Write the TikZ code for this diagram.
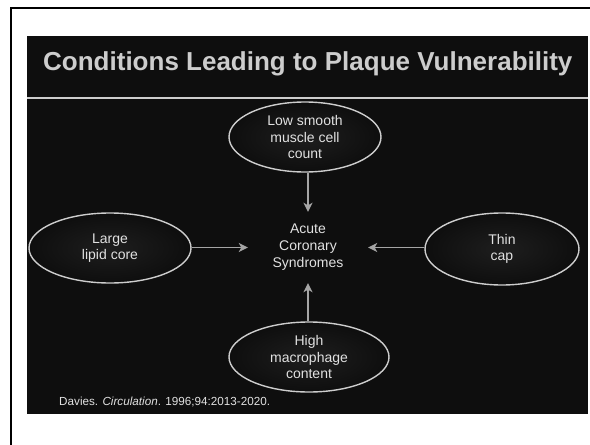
\documentclass[tikz,border=0pt]{standalone}
\usepackage{fontspec}
\setmainfont{Liberation Sans}
\usetikzlibrary{shapes.geometric,arrows.meta}
\definecolor{slide}{RGB}{14,14,14}
\definecolor{ink}{RGB}{225,225,225}
\definecolor{rim}{RGB}{205,205,205}
\definecolor{wire}{RGB}{165,165,165}
\definecolor{heading}{RGB}{205,205,205}
\definecolor{ovalcore}{RGB}{30,30,30}

\begin{document}
\begin{tikzpicture}[x=1pt,y=-1pt,
  oval/.style={ellipse, draw=rim, line width=1.4pt, inner sep=0pt,
    inner color=ovalcore, outer color=slide, text=ink, align=center,
    font=\fontsize{14}{16.5}\selectfont},
  feed/.style={draw=wire, line width=1.8pt,
    -{Stealth[length=9pt,width=9pt,inset=2.5pt]}},
  plain/.style={text=ink, align=center, inner sep=0pt},
]
\useasboundingbox (0,0) rectangle (590,445);
\fill[white] (0,0) rectangle (590,445);
% page frame (left and top edges)
\draw[black, line width=2pt] (11,445) |- (590,8);
% slide area
\fill[slide] (27,36) rectangle (588,414);

% heading and rule
\node (title) [anchor=base west, text=heading, inner sep=0pt,
  font=\bfseries\fontsize{26}{30}\selectfont] at (43,70)
  {Conditions Leading to Plaque Vulnerability};
\coordinate (ruleL) at (27,98);
\coordinate (ruleR) at (588,98);
\draw[rim, line width=2pt] (ruleL) -- (ruleR);

% causes
\node[oval, minimum width=152pt, minimum height=70pt] (smc) at (305,137)
  {Low smooth\\muscle cell\\count};
\node[oval, minimum width=162pt, minimum height=70pt] (lipid) at (110,248)
  {Large\\lipid core};
\node[oval, minimum width=154pt, minimum height=72pt] (cap) at (502,249)
  {Thin\\cap};
\node[oval, minimum width=160pt, minimum height=70pt] (mac) at (309,357)
  {High\\macrophage\\content};

% outcome
\node[plain, font=\fontsize{14}{17}\selectfont,
  minimum width=120pt, minimum height=71pt] (acs) at (308,247.5)
  {Acute\\Coronary\\Syndromes};

% arrows into the outcome
\draw[feed] (smc.south -| acs.north) -- (acs.north);
\draw[feed] (mac.north -| acs.south) -- (acs.south);
\draw[feed] (lipid.east |- acs.west) -- (acs.west);
\draw[feed] (cap.west |- acs.east) -- (acs.east);

% reference
\node[plain, anchor=base west, font=\fontsize{11.7}{14}\selectfont] (cite)
  at (59,405) {Davies. \textit{Circulation}. 1996;94:2013-2020.};
\end{tikzpicture}
\end{document}
